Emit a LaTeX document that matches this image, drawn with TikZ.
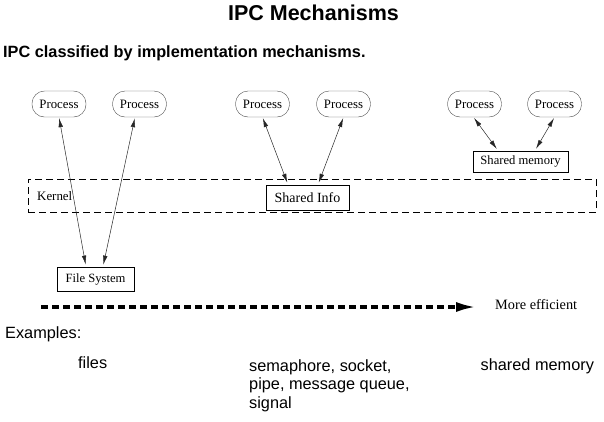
\documentclass[tikz,border=0pt]{standalone}
\usepackage{fontspec}
\setmainfont{Liberation Serif}
\newfontfamily\arialfont{Liberation Sans}
\usetikzlibrary{positioning}
\usetikzlibrary{arrows.meta}

\begin{document}
\begin{tikzpicture}[x=1pt,y=-1pt,>={Latex[length=9pt,width=4.5pt]},
  proc/.style={draw=black!70,rounded corners=12.5pt,minimum width=54pt,minimum height=26pt,inner sep=0pt,font=\fontsize{12.8}{14}\selectfont},
  box/.style={draw,line width=0.9pt,inner sep=0pt,font=\fontsize{12.6}{14}\selectfont},
  link/.style={<->,line width=0.5pt,black!85,shorten >=2pt,shorten <=1pt},
  sans/.style={font=\arialfont\fontsize{16.3}{18.3}\selectfont,inner sep=0pt}]

\useasboundingbox (0,0) rectangle (604,421);

\node[inner sep=0pt,anchor=base,font=\arialfont\bfseries\fontsize{21.5}{24}\selectfont] (title) at (313.5,20.5) {IPC Mechanisms};
\node[inner sep=0pt,anchor=base west,font=\arialfont\bfseries\fontsize{16.3}{18}\selectfont] (subtitle) at (3,57) {IPC classified by implementation mechanisms.};

% processes
\node[proc] (p1) at (59,104) {Process};
\node[proc] (p2) at (139.5,104) {Process};
\node[proc] (p3) at (262.5,104) {Process};
\node[proc] (p4) at (343.5,104) {Process};
\node[proc] (p5) at (474.5,104) {Process};
\node[proc] (p6) at (554.5,104) {Process};

\node[draw,dash pattern=on 7pt off 4pt,line width=0.8pt,minimum width=568pt,minimum height=33pt,inner sep=0pt] (kernel) at (312,195.5) {};
\node[inner sep=0pt,anchor=base west,font=\fontsize{12.9}{14}\selectfont] (kernlabel) at (37,200) {Kernel};

\node[box,minimum width=83pt,minimum height=25pt,font=\fontsize{14}{16}\selectfont] (info) at (307.5,197.5) {Shared Info};
\node[box,minimum width=77pt,minimum height=24pt] (fs) at (95.5,279) {File System};
\node[box,minimum width=95pt,minimum height=21pt] (shm) at (520.5,161.5) {Shared memory};

\draw[link] (p1.south) -- ([xshift=-9.5pt]fs.north);
\draw[link] ([xshift=-4.5pt]p2.south) -- ([xshift=7.5pt]fs.north);
\draw[link] (p3.south) -- ([xshift=-19.5pt]info.north);
\draw[link] (p4.south) -- ([xshift=10.5pt]info.north);
\draw[link] ([xshift=-1pt]p5.south) -- ([xshift=-22.5pt]shm.north);
\draw[link] (p6.south) -- ([xshift=14.5pt]shm.north);

% efficiency
\coordinate (effstart) at (41,307);
\coordinate (effend) at (477,307);
\draw[-{Latex[length=21pt,width=10pt]},line width=3.6pt,dash pattern=on 6.5pt off 4.5pt] (effstart) -- (effend);
\node[inner sep=0pt,anchor=base west,font=\fontsize{14.3}{16}\selectfont] (eff) at (495,309) {More efficient};

\node[sans,anchor=base west] (examples) at (5,338) {Examples:};
\node[sans,anchor=base west] (files) at (78,368) {files};
\node[sans,anchor=north west,align=left] (kernex) at (249,359.5) {semaphore, socket,\\pipe, message queue,\\signal};
\node[sans,anchor=base west] (shmex) at (480.5,370) {shared memory};
\end{tikzpicture}
\end{document}
